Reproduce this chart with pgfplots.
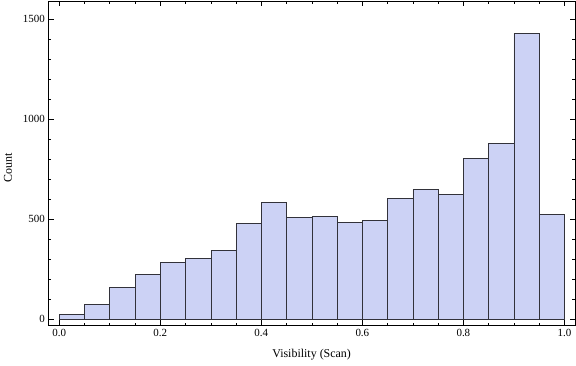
\documentclass[border=0pt]{standalone}
\usepackage{fontspec}
\setmainfont{Liberation Serif}
\usepackage{pgfplots}
\pgfplotsset{compat=1.18}
\definecolor{barfill}{RGB}{204,210,245}
\definecolor{baredge}{RGB}{50,50,58}
\begin{document}
\begin{tikzpicture}
\begin{axis}[
  scale only axis, width=527bp, height=325bp,
  xmin=-0.0218, xmax=1.021, ymin=-35, ymax=1590,
  axis line style={black, line width=0.8pt},
  xtick={0,0.2,0.4,0.6,0.8,1.0},
  minor x tick num=3,
  ytick={0,500,1000,1500},
  minor y tick num=4,
  tick align=inside,
  major tick length=5.5bp, minor tick length=3bp,
  every tick/.style={black, line width=0.6pt},
  /pgf/number format/assume math mode=true,
  xticklabel style={/pgf/number format/.cd, fixed, fixed zerofill, precision=1},
  yticklabel style={/pgf/number format/.cd, fixed, precision=0, set thousands separator={}},
  tick label style={font=\fontsize{11}{13}\selectfont},
  label style={font=\fontsize{12}{14}\selectfont},
  xlabel={Visibility (Scan)}, ylabel={Count},
  xlabel style={at={(axis description cs:0.5,0)}, anchor=north, inner sep=0pt, yshift=-23.5bp},
  ylabel style={at={(axis description cs:0,0.485)}, anchor=north, inner sep=0pt, yshift=44.5bp},
  clip=false,
]
\addplot[ybar interval, fill=barfill, draw=baredge, line width=0.6pt] coordinates {
(0.00,24) (0.05,73) (0.10,158) (0.15,223) (0.20,283) (0.25,303)
(0.30,343) (0.35,478) (0.40,583) (0.45,508) (0.50,513) (0.55,483)
(0.60,493) (0.65,603) (0.70,648) (0.75,623) (0.80,803) (0.85,878)
(0.90,1428) (0.95,523) (1.00,0)
};
\coordinate (fsw) at (rel axis cs:0,0);
\coordinate (fne) at (rel axis cs:1,1);
\end{axis}
\pgfresetboundingbox
\path[use as bounding box] ([xshift=-48.3bp,yshift=-40bp]fsw) rectangle ([xshift=1bp,yshift=1bp]fne);
\end{tikzpicture}
\end{document}
